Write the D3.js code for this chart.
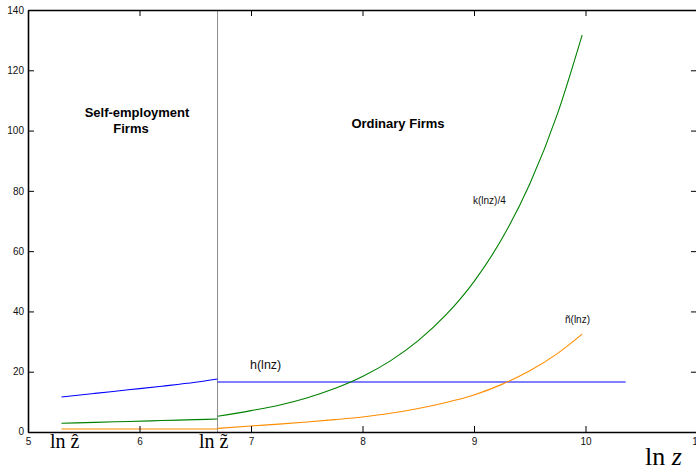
<!DOCTYPE html>
<html lang="en">
<head>
    <meta charset="UTF-8">
    <title>Firms</title>
    <script src="https://cdn.jsdelivr.net/npm/d3@7"></script>
    <style>
        body { margin: 0; background: #fff; }
        svg { display: block; }
    </style>
</head>
<body>
<svg width="696" height="472" id="svgcontainer"></svg>
<script>
    // self-employment segment (ln z from 5.3 up to ln z~)
    const lnzLeft = [5.3, 5.6, 5.9, 6.2, 6.5, 6.7];
    const hLeft = [11.6, 12.8, 14.0, 15.2, 16.5, 17.6];
    const kLeft = [2.9, 3.2, 3.5, 3.8, 4.1, 4.3];
    const nLeft = [1.0, 1.0, 1.0, 1.0, 1.0, 1.0];

    // ordinary firms segment
    const lnzRight = [6.7, 7.0, 7.25, 7.5, 7.75, 8.0, 8.25, 8.5, 8.75, 9.0, 9.25, 9.5, 9.75, 9.97];
    const kRight = [5.2, 7.1, 8.9, 11.3, 14.4, 18.4, 23.6, 30.3, 38.9, 49.9, 64.1, 82.3, 105.7, 131.7];
    const nRight = [1.2, 2.0, 2.6, 3.3, 4.1, 5.0, 6.2, 7.8, 9.8, 12.3, 15.8, 20.3, 26.1, 32.5];
    const hRightX = [6.7, 10.36];
    const hRightY = [16.6, 16.6];

    const zTilde = 6.7;
    const xTicks = [5, 6, 7, 8, 9, 10, 11];
    const yTicks = [0, 20, 40, 60, 80, 100, 120, 140];

    const svg = d3.select('#svgcontainer');
    const x = d3.scaleLinear().domain([5, 11]).range([28, 697]);
    const y = d3.scaleLinear().domain([0, 140]).range([432, 10]);

    const zip = (xs, ys) => xs.map((v, i) => [v, ys[i]]);
    const line = d3.line().x(d => x(d[0])).y(d => y(d[1])).curve(d3.curveMonotoneX);

    // threshold line
    svg.append('line')
        .attr('x1', x(zTilde)).attr('x2', x(zTilde))
        .attr('y1', y(140)).attr('y2', y(0))
        .attr('stroke', '#8c8c8c').attr('stroke-width', 1);

    const series = [
        {xs: lnzLeft, ys: hLeft, c: '#0000ff'},
        {xs: hRightX, ys: hRightY, c: '#0000ff'},
        {xs: lnzLeft, ys: kLeft, c: '#008000'},
        {xs: lnzRight, ys: kRight, c: '#008000'},
        {xs: lnzLeft, ys: nLeft, c: '#ff8c00'},
        {xs: lnzRight, ys: nRight, c: '#ff8c00'}
    ];
    svg.selectAll('.curve').data(series).join('path')
        .attr('class', 'curve')
        .attr('d', d => line(zip(d.xs, d.ys)))
        .attr('fill', 'none')
        .attr('stroke', d => d.c)
        .attr('stroke-width', 1.1);

    // axes, ticks pointing inward
    const fontFam = 'Liberation Sans, Arial, sans-serif';
    const gx = svg.append('g').attr('transform', `translate(0,${y(0)})`)
        .call(d3.axisBottom(x).tickValues(xTicks).tickFormat(d3.format('d'))
            .tickSizeInner(-6).tickSizeOuter(0).tickPadding(6));
    const gy = svg.append('g').attr('transform', `translate(${x(5)},0)`)
        .call(d3.axisLeft(y).tickValues(yTicks)
            .tickSizeInner(-6).tickSizeOuter(0).tickPadding(4));
    const gt = svg.append('g').attr('transform', `translate(0,${y(140)})`)
        .call(d3.axisTop(x).tickValues(xTicks).tickFormat('')
            .tickSizeInner(-6).tickSizeOuter(0));
    const gr = svg.append('g').attr('transform', `translate(${x(11)},0)`)
        .call(d3.axisRight(y).tickValues(yTicks).tickFormat('')
            .tickSizeInner(-6).tickSizeOuter(0));

    [gx, gy, gt, gr].forEach(g => {
        g.select('.domain').attr('stroke', '#000').attr('stroke-width', 1.6);
        g.selectAll('.tick line').attr('stroke', '#000').attr('stroke-width', 1);
        g.selectAll('.tick text').attr('font-family', fontFam).attr('font-size', 10).attr('fill', '#111');
    });
    gy.select('.tick text').attr('dy', '0.2em');

    // region labels
    const bold = svg.append('g').attr('font-family', fontFam).attr('font-weight', 'bold')
        .attr('font-size', 13).attr('text-anchor', 'middle').attr('fill', '#000');
    bold.append('text').attr('x', 137).attr('y', 117).text('Self-employment');
    bold.append('text').attr('x', 131).attr('y', 133).text('Firms');
    bold.append('text').attr('x', 398).attr('y', 128).text('Ordinary Firms');

    const lab = svg.append('g').attr('font-family', fontFam).attr('fill', '#111');
    lab.append('text').attr('x', 250).attr('y', 369).attr('font-size', 12.5).text('h(lnz)');
    lab.append('text').attr('x', 473).attr('y', 204).attr('font-size', 10).text('k(lnz)/4');
    lab.append('text').attr('x', 565).attr('y', 323).attr('font-size', 10).text('ñ(lnz)');

    // serif labels under the axis
    const serif = svg.append('g').attr('font-family', 'Liberation Serif, Times New Roman, serif').attr('fill', '#000');
    serif.append('text').attr('x', 50).attr('y', 448).attr('font-size', 20).text('ln ẑ');
    serif.append('text').attr('x', 199).attr('y', 448).attr('font-size', 20).text('ln z\u0303');
    const lnz = serif.append('text').attr('x', 645).attr('y', 465).attr('font-size', 26);
    lnz.append('tspan').text('ln ');
    lnz.append('tspan').attr('font-style', 'italic').text('z');
</script>
</body>
</html>
